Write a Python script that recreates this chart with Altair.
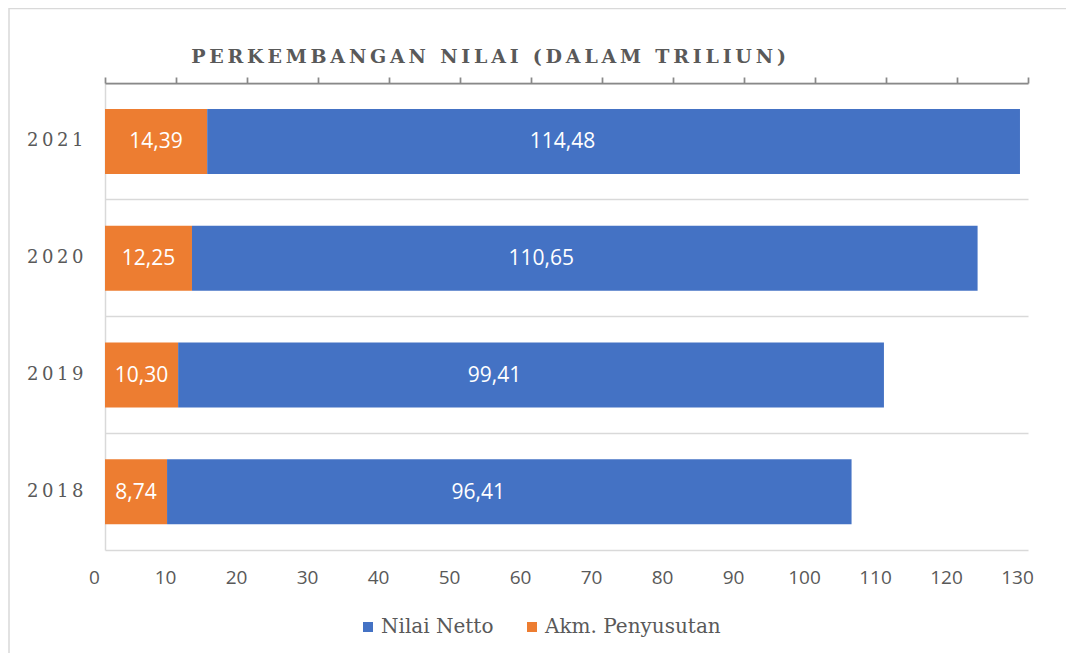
import altair as alt
import pandas as pd

years = ["2018", "2019", "2020", "2021"]
nilai_netto = [96.41, 99.41, 110.65, 114.48]
akm_penyusutan = [8.74, 10.30, 12.25, 14.39]
series_names = ["Nilai Netto", "Akm. Penyusutan"]
series_colors = ["#4472C4", "#ED7D31"]
x_ticks = list(range(0, 131, 10))
title_text = "PERKEMBANGAN NILAI (DALAM TRILIUN)"

rows = []
for y, n, a in zip(years, nilai_netto, akm_penyusutan):
    rows.append({"year": y, "series": "Akm. Penyusutan", "value": a, "ord": 0,
                 "label": f"{a:.2f}".replace(".", ",")})
    rows.append({"year": y, "series": "Nilai Netto", "value": n, "ord": 1,
                 "label": f"{n:.2f}".replace(".", ",")})
df = pd.DataFrame(rows)

spaced_title = "\u2009".join(list(title_text))

base = alt.Chart(df).transform_stack(
    stack="value", groupby=["year"], as_=["x0", "x1"],
    sort=[alt.SortField("ord", order="ascending")]
).transform_calculate(mid="datum.x1 / 2")

y_enc = alt.Y("year:N", sort=["2021", "2020", "2019", "2018"],
              scale=alt.Scale(paddingInner=0, paddingOuter=0),
              axis=alt.Axis(orient="left", title=None, domainColor="#d9d9d9", domainWidth=1.5,
                            ticks=False, grid=True, gridColor="#d9d9d9", gridWidth=1.5,
                            bandPosition=0, labelFont="DejaVu Serif", labelFontSize=18,
                            labelColor="#595959", labelPadding=22,
                            labelExpr="join(split(datum.label, ''), '\u2009')"))

xscale = alt.Scale(domain=[0, 130], nice=False, zero=True)

bars = base.mark_bar(size=65).encode(
    x=alt.X("x0:Q", scale=xscale,
            axis=alt.Axis(orient="bottom", values=x_ticks, title=None,
                          domainColor="#d9d9d9", domainWidth=1.5, ticks=False, grid=False,
                          labelFont="Open Sans", labelFontSize=19, labelColor="#595959",
                          labelPadding=18, labelOffset=-11, labelFlush=False)),
    x2="x1:Q",
    y=y_enc,
    color=alt.Color("series:N",
                    scale=alt.Scale(domain=series_names, range=series_colors),
                    legend=alt.Legend(orient="none", legendX=253, legendY=534,
                                      direction="horizontal", title=None,
                                      symbolType="square", symbolSize=100,
                                      symbolStrokeWidth=0, labelLimit=0,
                                      labelFont="DejaVu Serif", labelFontSize=20,
                                      labelColor="#595959", columnPadding=28,
                                      labelOffset=3)),
)

labels = base.mark_text(color="white", font="Open Sans", fontSize=21,
                        align="center", baseline="middle", yOffset=1).encode(
    x=alt.X("mid:Q", scale=xscale,
            axis=alt.Axis(orient="top", values=x_ticks, title=None, labels=False,
                          domainColor="#898989", domainWidth=1.75,
                          tickColor="#898989", tickWidth=1.75, tickSize=6,
                          grid=False, zindex=2)),
    y=y_enc,
    text="label:N",
)

border_df = pd.DataFrame({"k": [0]})
left_border = alt.Chart(border_df).mark_rule(color="#d9d9d9", strokeWidth=1.5).encode(
    x=alt.value(-96), x2=alt.value(-96), y=alt.value(-75), y2=alt.value(578))
top_border = alt.Chart(border_df).mark_rule(color="#d9d9d9", strokeWidth=1.5).encode(
    x=alt.value(-96), x2=alt.value(969), y=alt.value(-74.5), y2=alt.value(-74.5))

chart = alt.layer(bars, labels, left_border, top_border).resolve_axis(
    x="independent"
).properties(
    width=923, height=467,
    background="white",
    autosize=alt.AutoSizeParams(type="none"),
    padding={"left": 97, "top": 75, "right": 38, "bottom": 103},
    title=alt.TitleParams(spaced_title, font="DejaVu Serif", fontSize=19,
                          fontWeight="bold", color="#595959", anchor="middle",
                          frame="group", dx=-78, dy=68, offset=8),
).configure_view(stroke=None, strokeWidth=0)

chart.save("out.html", embed_options={"renderer": "svg", "actions": False})
